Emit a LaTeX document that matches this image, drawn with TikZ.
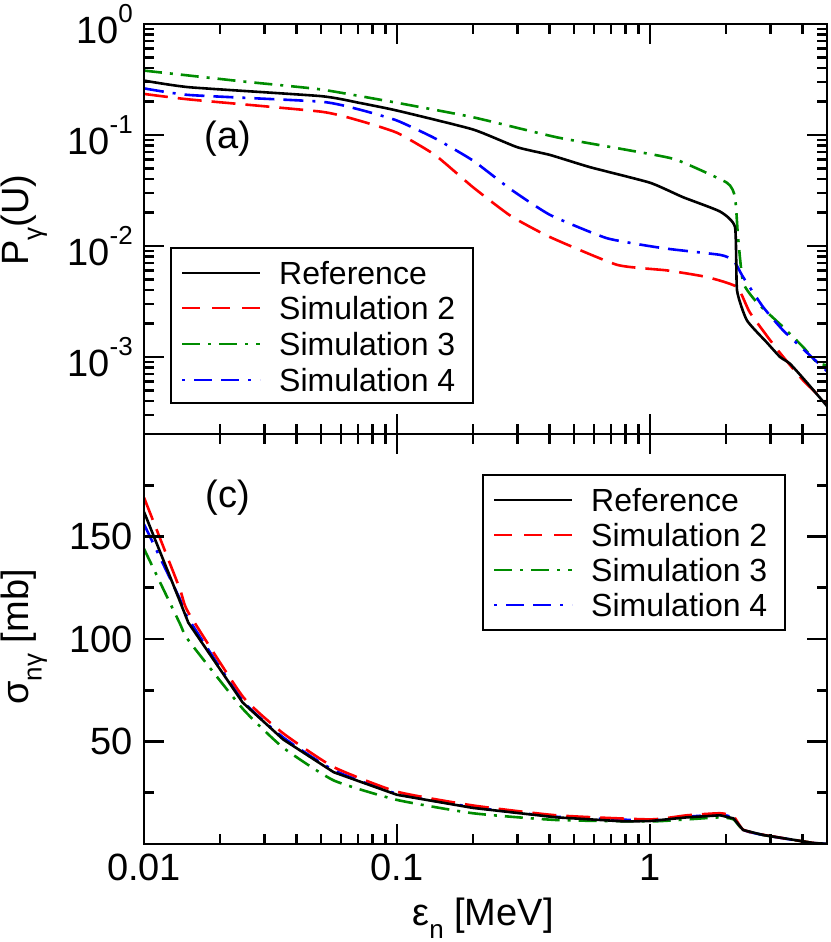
\documentclass[tikz,border=0pt]{standalone}
\usepackage{fontspec}
\setmainfont{Liberation Sans}
\newcommand{\mysup}[1]{\raisebox{0.55em}{\fontsize{26}{28}\selectfont #1}}
\newcommand{\mysub}[1]{\raisebox{-0.35em}{\fontsize{26}{28}\selectfont #1}}
\begin{document}
\begin{tikzpicture}[x=1pt,y=1pt,
  frame/.style={line width=2.8pt,line cap=rect},
  tk/.style={line width=2.6pt},
  cref/.style={line width=2.6pt,black,line join=round},
  csim2/.style={line width=2.6pt,red,dash pattern=on 24pt off 10pt,line join=round},
  csim3/.style={line width=2.6pt,green!55!black,dash pattern=on 18pt off 8pt on 3pt off 8pt,line join=round},
  csim4/.style={line width=2.6pt,blue,dash pattern=on 20pt off 9pt on 3pt off 9pt on 20pt off 9pt,line join=round},
  sm/.style={smooth,tension=0.3},
  ticklab/.style={font=\fontsize{38}{40}\selectfont,inner sep=0pt},
  leglab/.style={font=\fontsize{32}{34}\selectfont,anchor=west,inner sep=0pt},
  axlab/.style={font=\fontsize{38}{40}\selectfont,inner sep=0pt}]
\useasboundingbox (0,0) rectangle (830,942);
% ---- curves upper panel
\begin{scope}
\clip (144,508) rectangle (827,918);
\begin{scope}[x=253pt,y=111pt,shift={(650pt,918pt)}]
\draw[csim3] plot[sm] coordinates {(-2,-0.42) (-1.8,-0.47) (-1.6,-0.52) (-1.3,-0.59) (-1,-0.71) (-0.7,-0.84) (-0.37,-1.02) (-0.09,-1.135) (0.1,-1.22) (0.304,-1.43) (0.336,-1.56) (0.348,-1.92) (0.368,-2.33) (0.423,-2.51) (0.526,-2.73) (0.605,-2.91) (0.66,-3.05) (0.71,-3.08)};
\draw[csim4] plot[sm] coordinates {(-2,-0.58) (-1.82,-0.64) (-1.3,-0.70) (-1.15,-0.77) (-1,-0.87) (-0.85,-1.03) (-0.7,-1.23) (-0.55,-1.49) (-0.395,-1.72) (-0.17,-1.93) (0.052,-2.02) (0.277,-2.08) (0.33,-2.13) (0.368,-2.28) (0.447,-2.55) (0.526,-2.76) (0.62,-2.96) (0.71,-3.15)};
\draw[csim2] plot[sm] coordinates {(-2,-0.63) (-1.82,-0.68) (-1.3,-0.79) (-1.15,-0.87) (-1,-0.98) (-0.85,-1.18) (-0.7,-1.47) (-0.55,-1.73) (-0.395,-1.92) (-0.13,-2.17) (0.067,-2.22) (0.225,-2.28) (0.344,-2.37) (0.395,-2.60) (0.502,-2.93) (0.605,-3.21) (0.71,-3.44)};
\draw[cref] plot[sm] coordinates {(-2,-0.51) (-1.82,-0.57) (-1.3,-0.65) (-1.15,-0.71) (-1,-0.78) (-0.7,-0.95) (-0.525,-1.11) (-0.395,-1.18) (-0.237,-1.29) (0,-1.43) (0.13,-1.56) (0.277,-1.69) (0.336,-1.83) (0.344,-2.40) (0.383,-2.67) (0.462,-2.87) (0.514,-3.0) (0.553,-3.06) (0.62,-3.23) (0.71,-3.47)};
\end{scope}
\end{scope}
% ---- curves lower panel
\begin{scope}
\clip (144,98) rectangle (827,508);
\begin{scope}[x=253pt,y=2.05pt,shift={(650pt,98pt)}]
\draw[csim3] plot[sm] coordinates {(-2,144) (-1.86,108) (-1.825,99.5) (-1.61,66) (-1.45,47) (-1.25,31) (-1,21.5) (-0.7,15) (-0.37,11.7) (0,11) (0.146,12) (0.277,13) (0.33,12) (0.368,6.8) (0.447,4.4) (0.645,0.5) (0.71,0)};
\draw[csim4] plot[sm] coordinates {(-2,156) (-1.86,120) (-1.825,110) (-1.61,70) (-1.45,52) (-1.25,36) (-1,24.5) (-0.7,18) (-0.37,13.3) (0,11.5) (0.146,13.3) (0.277,14.3) (0.33,12.8) (0.368,6.9) (0.447,4.4) (0.645,0.5) (0.71,0)};
\draw[csim2] plot[sm] coordinates {(-2,169) (-1.86,125) (-1.825,113) (-1.61,72) (-1.45,54) (-1.25,37.5) (-1,25.5) (-0.7,18.8) (-0.37,14) (0,12) (0.146,14) (0.277,15) (0.33,13.5) (0.368,7) (0.447,4.5) (0.645,0.5) (0.71,0)};
\draw[cref] plot coordinates {(-2,162) (-1.86,119) (-1.825,108) (-1.61,69) (-1.45,51) (-1.25,35) (-1,24) (-0.7,17.6) (-0.37,13) (-0.1,11) (0,11.2) (0.146,13) (0.277,14) (0.33,12.5) (0.368,6.8) (0.447,4.4) (0.645,0.5) (0.71,0)};
\end{scope}
\end{scope}
% ---- frame
\draw[frame] (144,98) rectangle (827,918);
\draw[frame] (144,508) -- (827,508);
% x ticks
\foreach \d/\ms in {-2/{2,3,4,5,6,7,8,9},-1/{2,3,4,5,6,7,8,9},0/{2,3,4}}{
  \foreach \m in \ms {
    \pgfmathsetmacro\xx{650+253*(\d+log10(\m))}
    \draw[tk] (\xx,918) -- ++(0,-10);
    \draw[tk] (\xx,508) -- ++(0,10);
    \draw[tk] (\xx,508) -- ++(0,-10);
    \draw[tk] (\xx,98) -- ++(0,10);
  }
}
\foreach \xx in {144,397,650}{
  \draw[tk] (\xx,918) -- ++(0,-20);
  \draw[tk] (\xx,508) -- ++(0,20);
  \draw[tk] (\xx,508) -- ++(0,-20);
  \draw[tk] (\xx,98) -- ++(0,20);
}
% upper y ticks
\foreach \k/\ms in {-4/{3,4,5,6,7,8,9},-3/{2,3,4,5,6,7,8,9},-2/{2,3,4,5,6,7,8,9},-1/{2,3,4,5,6,7,8,9}}{
  \foreach \m in \ms {
    \pgfmathsetmacro\yy{918+111*(\k+log10(\m))}
    \draw[tk] (144,\yy) -- ++(10,0);
    \draw[tk] (827,\yy) -- ++(-10,0);
  }
}
\foreach \k in {0,-1,-2,-3}{
  \pgfmathsetmacro\yy{918+111*\k}
  \draw[tk] (144,\yy) -- ++(20,0);
  \draw[tk] (827,\yy) -- ++(-20,0);
}
% lower y ticks
\foreach \v in {25,75,125,175}{
  \draw[tk] (144,98+2.05*\v) -- ++(10,0);
  \draw[tk] (827,98+2.05*\v) -- ++(-10,0);
}
\foreach \v in {50,100,150}{
  \draw[tk] (144,98+2.05*\v) -- ++(20,0);
  \draw[tk] (827,98+2.05*\v) -- ++(-20,0);
}
% tick labels
\node[ticklab,anchor=east] (t0) at (133,918) {10\mysup{0}};
\node[ticklab,anchor=east] (t1) at (133,807) {10\mysup{-1}};
\node[ticklab,anchor=east] (t2) at (133,696) {10\mysup{-2}};
\node[ticklab,anchor=east] (t3) at (133,585) {10\mysup{-3}};
\node[ticklab,anchor=east] (s150) at (133,405.5) {150};
\node[ticklab,anchor=east] (s100) at (133,303) {100};
\node[ticklab,anchor=east] (s50) at (133,200.5) {50};
\node[ticklab] (x001) at (144,75) {0.01};
\node[ticklab] (x01) at (397,75) {0.1};
\node[ticklab] (x1) at (650,75) {1};
% axis labels
\node[axlab,rotate=90] (ylA) at (24,722) {P\mysub{γ}(U)};
\node[axlab,rotate=90] (ylC) at (24,305) {σ\mysub{nγ} [mb]};
\node[axlab] (xl) at (483,24) {ε\mysub{n} [MeV]};
\node[axlab] (pa) at (228,803) {(a)};
\node[axlab] (pc) at (228,444) {(c)};
% legend upper
\draw[line width=2.2pt,fill=white] (171,539) rectangle (473,694);
\draw[cref] (182,669) -- (260,669);
\draw[csim2,dash pattern=on 18pt off 12pt] (182,634) -- (260,634);
\draw[csim3,dash pattern=on 18pt off 8pt on 3pt off 8pt] (182,598) -- (260,598);
\draw[csim4,dash pattern=on 3pt off 9pt on 18pt off 9pt on 18pt off 9pt] (182,562) -- (260,562);
\node[leglab] (la1) at (279,669) {Reference};
\node[leglab] (la2) at (279,634) {Simulation 2};
\node[leglab] (la3) at (279,598) {Simulation 3};
\node[leglab] (la4) at (279,562) {Simulation 4};
% legend lower
\draw[line width=2.2pt,fill=white] (483,312) rectangle (785,467);
\draw[cref] (494,442) -- (572,442);
\draw[csim2,dash pattern=on 18pt off 12pt] (494,407) -- (572,407);
\draw[csim3,dash pattern=on 18pt off 8pt on 3pt off 8pt] (494,372) -- (572,372);
\draw[csim4,dash pattern=on 3pt off 9pt on 18pt off 9pt on 18pt off 9pt] (494,337) -- (572,337);
\node[leglab] (lc1) at (591,442) {Reference};
\node[leglab] (lc2) at (591,407) {Simulation 2};
\node[leglab] (lc3) at (591,372) {Simulation 3};
\node[leglab] (lc4) at (591,337) {Simulation 4};
\end{tikzpicture}
\end{document}
